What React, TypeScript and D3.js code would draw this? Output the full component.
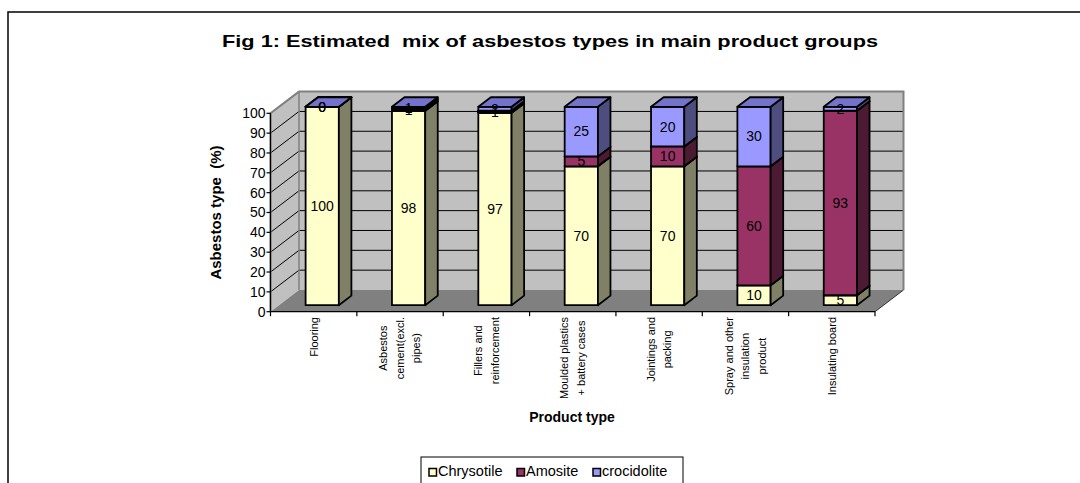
import React, { useEffect, useRef } from 'react';
import * as d3 from 'd3';

const categories = [
  'Flooring',
  'Asbestos\ncement(excl.\npipes)',
  'Fillers and\nreinforcement',
  'Moulded plastics\n+ battery cases',
  'Jointings and\npacking',
  'Spray and other\ninsulation\nproduct',
  'Insulating board',
];
const chrysotile = [100, 98, 97, 70, 70, 10, 5];
const amosite = [0, 1, 1, 5, 10, 60, 93];
const crocidolite = [0, 1, 2, 25, 20, 30, 2];
const seriesNames = ['Chrysotile', 'Amosite', 'crocidolite'];
const yTicks = [0, 10, 20, 30, 40, 50, 60, 70, 80, 90, 100];
const titleText = 'Fig 1: Estimated  mix of asbestos types in main product groups';
const yTitle = 'Asbestos type  (%)';
const xTitle = 'Product type';

const frontColors = ['#FFFFCC', '#993366', '#9999FF'];
const sideColors = ['#808066', '#4D1A33', '#4D4D80'];
const topColors = ['#CCCC99', '#7A2952', '#7373CC'];

const FONT = 'Arial, "Liberation Sans", Helvetica, sans-serif';

export default function App() {
  const ref = useRef<SVGSVGElement | null>(null);

  useEffect(() => {
    const svg = d3.select(ref.current);
    svg.selectAll('*').remove();

    const x0 = 270.5, x1 = 875;
    const depthX = 28.5, depthY = -21.7;
    const x = d3.scaleBand<string>().domain(categories).range([x0, x1]).padding(0);
    const y = d3.scaleLinear().domain([0, 100]).range([311.7, 113.3]);
    const P = (px: number, v: number, d: number): [number, number] => [px + d * depthX, y(v) + d * depthY];
    const poly = (pts: [number, number][]) => 'M' + pts.map(p => p.join(',')).join('L') + 'Z';

    // outer border
    svg.append('rect').attr('x', 8).attr('y', 12).attr('width', 1100).attr('height', 520)
      .attr('fill', 'white').attr('stroke', 'black').attr('stroke-width', 1.5);

    // title
    svg.append('text').attr('x', 550).attr('y', 46.5).attr('text-anchor', 'middle')
      .attr('font-family', FONT).attr('font-weight', 'bold').attr('font-size', 17)
      .attr('textLength', 656).attr('lengthAdjust', 'spacingAndGlyphs')
      .style('white-space', 'pre').text(titleText);

    // walls
    svg.append('path').attr('d', poly([P(x0, 0, 0), P(x0, 100, 0), P(x0, 100, 1), P(x0, 0, 1)]))
      .attr('fill', '#C0C0C0');
    svg.append('path').attr('d', poly([P(x0, 0, 1), P(x0, 100, 1), P(x1, 100, 1), P(x1, 0, 1)]))
      .attr('fill', '#C0C0C0');
    svg.append('path').attr('d', poly([P(x0, 0, 0), P(x1, 0, 0), P(x1, 0, 1), P(x0, 0, 1)]))
      .attr('fill', '#808080');

    // gridlines
    yTicks.filter(t => t > 0 && t < 100).forEach(t => {
      const a = P(x0, t, 0), b = P(x0, t, 1), c = P(x1, t, 1);
      svg.append('path').attr('d', `M${a}L${b}L${c}`).attr('fill', 'none')
        .attr('stroke', 'black').attr('stroke-width', 1);
    });

    // wall borders
    svg.append('path').attr('d', `M${P(x0, 0, 0)}L${P(x0, 100, 0)}L${P(x0, 100, 1)}L${P(x1, 100, 1)}L${P(x1, 0, 1)}`)
      .attr('fill', 'none').attr('stroke', '#808080').attr('stroke-width', 2);
    svg.append('path').attr('d', `M${P(x0, 100, 1)}L${P(x0, 0, 1)}`)
      .attr('fill', 'none').attr('stroke', '#808080').attr('stroke-width', 1.5);
    svg.append('path').attr('d', `M${P(x1, 0, 0)}L${P(x1, 0, 1)}`)
      .attr('fill', 'none').attr('stroke', '#333').attr('stroke-width', 1);

    // axes
    svg.append('path').attr('d', `M${P(x0, 0, 0)}L${P(x0, 100, 0)}`).attr('stroke', 'black').attr('stroke-width', 1.2);
    svg.append('path').attr('d', `M${P(x0, 0, 0)}L${P(x1, 0, 0)}`).attr('stroke', 'black').attr('stroke-width', 1.2);
    yTicks.forEach(t => {
      svg.append('line').attr('x1', x0 - 4).attr('x2', x0).attr('y1', y(t)).attr('y2', y(t))
        .attr('stroke', 'black').attr('stroke-width', 1.2);
      svg.append('text').attr('x', x0 - 5).attr('y', y(t)).attr('dy', '0.35em')
        .attr('text-anchor', 'end').attr('font-family', FONT).attr('font-size', 14).text(t);
    });
    const bounds = categories.map(c => x(c) as number).concat([x1]);
    bounds.forEach(bx => {
      svg.append('line').attr('x1', bx).attr('x2', bx).attr('y1', y(0)).attr('y2', y(0) + 4.5)
        .attr('stroke', 'black').attr('stroke-width', 1.2);
    });

    // bars
    const cw = x.bandwidth();
    const bw = cw * 0.385;
    const df = 0.3, db = 0.74;
    const series = [chrysotile, amosite, crocidolite];
    categories.forEach((c, i) => {
      const L = (x(c) as number) + (cw - bw) / 2;
      const R = L + bw;
      let base = 0;
      const labels: { v: number; mid: number }[] = [];
      series.forEach((s, k) => {
        const v = s[i];
        const top = base + v;
        const g = svg.append('g').attr('stroke', 'black').attr('stroke-width', 1.8).attr('stroke-linejoin', 'round');
        g.append('path').attr('d', poly([P(L, base, df), P(R, base, df), P(R, top, df), P(L, top, df)])).attr('fill', frontColors[k]);
        g.append('path').attr('d', poly([P(R, base, df), P(R, top, df), P(R, top, db), P(R, base, db)])).attr('fill', sideColors[k]);
        g.append('path').attr('d', poly([P(L, top, df), P(R, top, df), P(R, top, db), P(L, top, db)])).attr('fill', topColors[k]);
        labels.push({ v, mid: base + v / 2 });
        base = top;
      });
      labels.forEach(l => {
        const [lx, ly] = P((L + R) / 2, l.mid, df);
        svg.append('text').attr('x', lx).attr('y', ly).attr('dy', '0.35em').attr('text-anchor', 'middle')
          .attr('font-family', FONT).attr('font-size', 14).text(l.v);
      });
    });

    // category labels
    categories.forEach(c => {
      const lines = c.split('\n');
      const cx = (x(c) as number) + cw / 2;
      const g = svg.append('g');
      const texts = lines.map(line => g.append('text').attr('font-family', FONT).attr('font-size', 11)
        .attr('text-anchor', 'middle').attr('dy', '0.35em').text(line));
      const maxLen = d3.max(texts, t => (t.node() as SVGTextElement).getComputedTextLength()) || 0;
      const cy = 317 + maxLen / 2;
      texts.forEach((t, j) => {
        const lx = cx + (j - (lines.length - 1) / 2) * 16.5;
        t.attr('transform', `translate(${lx},${cy}) rotate(-90)`);
      });
    });

    // axis titles
    svg.append('text').attr('transform', 'translate(215.7,212.5) rotate(-90)').attr('text-anchor', 'middle')
      .attr('dy', '0.35em').attr('font-family', FONT).attr('font-weight', 'bold').attr('font-size', 15)
      .style('white-space', 'pre').text(yTitle);
    svg.append('text').attr('x', 572).attr('y', 421.5).attr('text-anchor', 'middle')
      .attr('font-family', FONT).attr('font-weight', 'bold').attr('font-size', 14).text(xTitle);

    // legend
    svg.append('rect').attr('x', 421).attr('y', 457).attr('width', 262).attr('height', 60)
      .attr('fill', 'white').attr('stroke', 'black').attr('stroke-width', 1);
    const legX = [429, 517, 593];
    seriesNames.forEach((n, k) => {
      svg.append('rect').attr('x', legX[k]).attr('y', 468.5).attr('width', 7.5).attr('height', 7.5)
        .attr('fill', frontColors[k]).attr('stroke', 'black').attr('stroke-width', 1.5);
      svg.append('text').attr('x', legX[k] + 9).attr('y', 476).attr('font-family', FONT)
        .attr('font-size', 14.5).text(n);
    });
  }, []);

  return (
    <svg ref={ref} width={1080} height={483}
      style={{ position: 'absolute', left: 0, top: 0, display: 'block', background: 'white' }} />
  );
}
